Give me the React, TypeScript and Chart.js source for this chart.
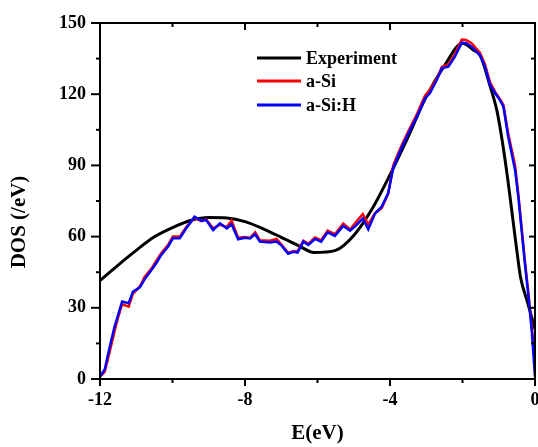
import React, { useEffect, useRef } from "react";
import { Chart, registerables } from "chart.js";

Chart.register(...registerables);

const FONT = "'Liberation Serif', 'Times New Roman', serif";

// Experiment (smooth black curve)
const expE = [-12, -11.5, -11, -10.5, -10, -9.5, -9, -8.5, -8, -7.5, -7, -6.5, -6.1, -5.5, -5, -4.5, -4, -3.5, -3, -2.5, -2, -1.7, -1.5, -1.25, -1.05, -0.9, -0.75, -0.6, -0.5, -0.4, -0.22, 0];
const expDOS = [41.5, 48, 54.2, 59.9, 63.8, 66.8, 68, 67.8, 66.3, 63.3, 59.7, 56, 53.3, 54.2, 60.5, 71.5, 86, 102, 119, 132, 141.5, 138.6, 136, 124, 113, 100, 84, 66, 54, 43, 33, 21];

// Simulated curves
const simE = [
  -12.0, -11.87, -11.74, -11.6, -11.5, -11.39, -11.21, -11.09, -10.9, -10.77,
  -10.58, -10.44, -10.31, -10.12, -9.99, -9.8, -9.62, -9.39, -9.21, -9.07,
  -8.88, -8.69, -8.5, -8.37, -8.19, -8.0, -7.86, -7.72, -7.59, -7.31,
  -7.13, -6.99, -6.81, -6.67, -6.55, -6.39, -6.25, -6.07, -5.9, -5.72,
  -5.52, -5.29, -5.1, -4.92, -4.75, -4.6, -4.41, -4.23, -4.05, -3.91,
  -3.72, -3.54, -3.26, -3.03, -2.9, -2.71, -2.57, -2.39, -2.21, -2.02,
  -1.9, -1.75, -1.52, -1.38, -1.24, -1.1, -0.97, -0.87, -0.74, -0.55,
  -0.46, -0.37, -0.28, -0.18, -0.09, 0,
];
const aSiDOS = [
  1, 3, 11, 20, 26, 31.5, 30.5, 36, 39, 43,
  46.5, 50, 53, 56.5, 60, 60, 64, 68, 66.5, 67.2,
  63.5, 65, 64, 66.7, 59.5, 59.8, 59.5, 61.8, 58.5, 58.3,
  59, 56.5, 53.2, 53.8, 53.8, 58.3, 57, 59.6, 58.5, 62.5,
  61, 65.5, 63, 66.5, 69.5, 65, 70, 72, 78, 90,
  97, 103, 111.5, 119.5, 121.8, 126.5, 131.5, 132.5, 137, 143,
  142.8, 141.5, 137.5, 132.5, 125, 121, 118, 115.5, 103.5, 90,
  78, 64, 50, 36, 22, 8,
];
const aSiHDOS = [
  1, 4, 13, 22, 27, 32.6, 31.9, 36.8, 38.6, 42,
  45.9, 49, 52.3, 55.8, 59.3, 59.3, 63.5, 68.4, 66.7, 67,
  62.8, 65.6, 63.5, 65.2, 58.9, 59.5, 59.2, 61, 57.9, 57.5,
  57.9, 56.2, 52.8, 53.6, 53.3, 57.9, 56.5, 59, 57.9, 61.8,
  60.3, 64.5, 62.5, 64.9, 67.7, 63.1, 69.8, 72.6, 78.3, 89,
  96, 102.1, 110.5, 118.3, 120.4, 126, 130.9, 131.6, 135.8, 141.7,
  141.5, 140, 136.5, 131.6, 123.9, 120.4, 117.6, 114.7, 102.1, 88.1,
  76.8, 62.8, 48.8, 34.7, 20.6, 1,
];

const seriesNames = ["Experiment", "a-Si", "a-Si:H"];
const seriesColors = ["#000000", "#ff0000", "#0000ff"];

const xMajorTicks = [-12, -8, -4, 0];
const xMinorTicks = [-10, -6, -2];
const yMajorTicks = [0, 30, 60, 90, 120, 150];
const yMinorTicks = [15, 45, 75, 105, 135];

const xTitle = "E(eV)";
const yTitle = "DOS (/eV)";

const zip = (xs: number[], ys: number[]) => xs.map((x, i) => ({ x, y: ys[i] }));

const framePlugin = {
  id: "frameAndDecor",
  afterDraw(chart: any) {
    const ctx = chart.ctx;
    const { left, right, top, bottom } = chart.chartArea;
    const xs = chart.scales.x;
    const ys = chart.scales.y;
    ctx.save();
    ctx.strokeStyle = "#000";
    ctx.lineWidth = 2;
    ctx.lineCap = "butt";
    ctx.strokeRect(left, top, right - left, bottom - top);
    const line = (x1: number, y1: number, x2: number, y2: number) => {
      ctx.beginPath();
      ctx.moveTo(x1, y1);
      ctx.lineTo(x2, y2);
      ctx.stroke();
    };
    yMajorTicks.forEach((v) => {
      const p = ys.getPixelForValue(v);
      line(left - 9, p, left, p);
      line(right, p, right - 6, p);
    });
    yMinorTicks.forEach((v) => {
      const p = ys.getPixelForValue(v);
      line(left - 4, p, left, p);
      line(right, p, right - 4, p);
    });
    xMajorTicks.forEach((v) => {
      const p = xs.getPixelForValue(v);
      line(p, bottom, p, bottom + 7);
      line(p, top, p, top + 7);
    });
    xMinorTicks.forEach((v) => {
      const p = xs.getPixelForValue(v);
      line(p, bottom, p, bottom + 4);
      line(p, top, p, top + 4);
    });

    // legend
    const legY = [58, 81, 105];
    ctx.font = `bold 18px ${FONT}`;
    ctx.textBaseline = "middle";
    ctx.textAlign = "left";
    ctx.fillStyle = "#000";
    seriesNames.forEach((name, i) => {
      ctx.strokeStyle = seriesColors[i];
      ctx.lineWidth = 3;
      line(257, legY[i], 301, legY[i]);
      ctx.fillText(name, 306, legY[i] + 1);
    });

    // axis titles
    ctx.font = `bold 21px ${FONT}`;
    ctx.textAlign = "center";
    ctx.textBaseline = "middle";
    ctx.fillText(xTitle, (left + right) / 2, 434);
    ctx.save();
    ctx.translate(20, 222);
    ctx.rotate(-Math.PI / 2);
    ctx.fillText(yTitle, 0, 0);
    ctx.restore();
    ctx.restore();
  },
};

export default function App() {
  const ref = useRef<HTMLCanvasElement | null>(null);
  useEffect(() => {
    if (!ref.current) return;
    const tickFont = { family: FONT, size: 18, weight: "bold" as const };
    const chart = new Chart(ref.current, {
      type: "line",
      data: {
        datasets: [
          {
            label: seriesNames[2],
            data: zip(simE, aSiHDOS),
            borderColor: seriesColors[2],
            borderWidth: 2.5,
            pointRadius: 0,
            tension: 0,
            order: 0,
          },
          {
            label: seriesNames[1],
            data: zip(simE, aSiDOS),
            borderColor: seriesColors[1],
            borderWidth: 2.5,
            pointRadius: 0,
            tension: 0,
            order: 1,
          },
          {
            label: seriesNames[0],
            data: zip(expE, expDOS),
            borderColor: seriesColors[0],
            borderWidth: 3,
            pointRadius: 0,
            cubicInterpolationMode: "monotone",
            order: 2,
          },
        ],
      },
      options: {
        animation: false,
        responsive: false,
        maintainAspectRatio: false,
        layout: { padding: { top: 23, right: 3, left: 0, bottom: 0 } },
        plugins: { legend: { display: false }, tooltip: { enabled: false } },
        scales: {
          x: {
            type: "linear",
            min: -12,
            max: 0,
            ticks: {
              stepSize: 4,
              color: "#000",
              font: tickFont,
              padding: 11,
              maxRotation: 0,
              autoSkip: false,
            },
            grid: { display: false, drawTicks: false },
            border: { display: false },
            afterFit: (s: any) => {
              s.height = 68;
              s.paddingLeft = 0;
              s.paddingRight = 0;
            },
          },
          y: {
            type: "linear",
            min: 0,
            max: 150,
            ticks: { stepSize: 30, color: "#000", font: tickFont, padding: 14 },
            grid: { display: false, drawTicks: false },
            border: { display: false },
            afterFit: (s: any) => {
              s.width = 100;
              s.paddingTop = 0;
              s.paddingBottom = 0;
            },
          },
        },
      },
      plugins: [framePlugin],
    });
    return () => chart.destroy();
  }, []);
  return (
    <div style={{ position: "fixed", left: 0, top: 0, width: 538, height: 447, background: "#fff" }}>
      <canvas ref={ref} width={538} height={447} style={{ display: "block" }} />
    </div>
  );
}
